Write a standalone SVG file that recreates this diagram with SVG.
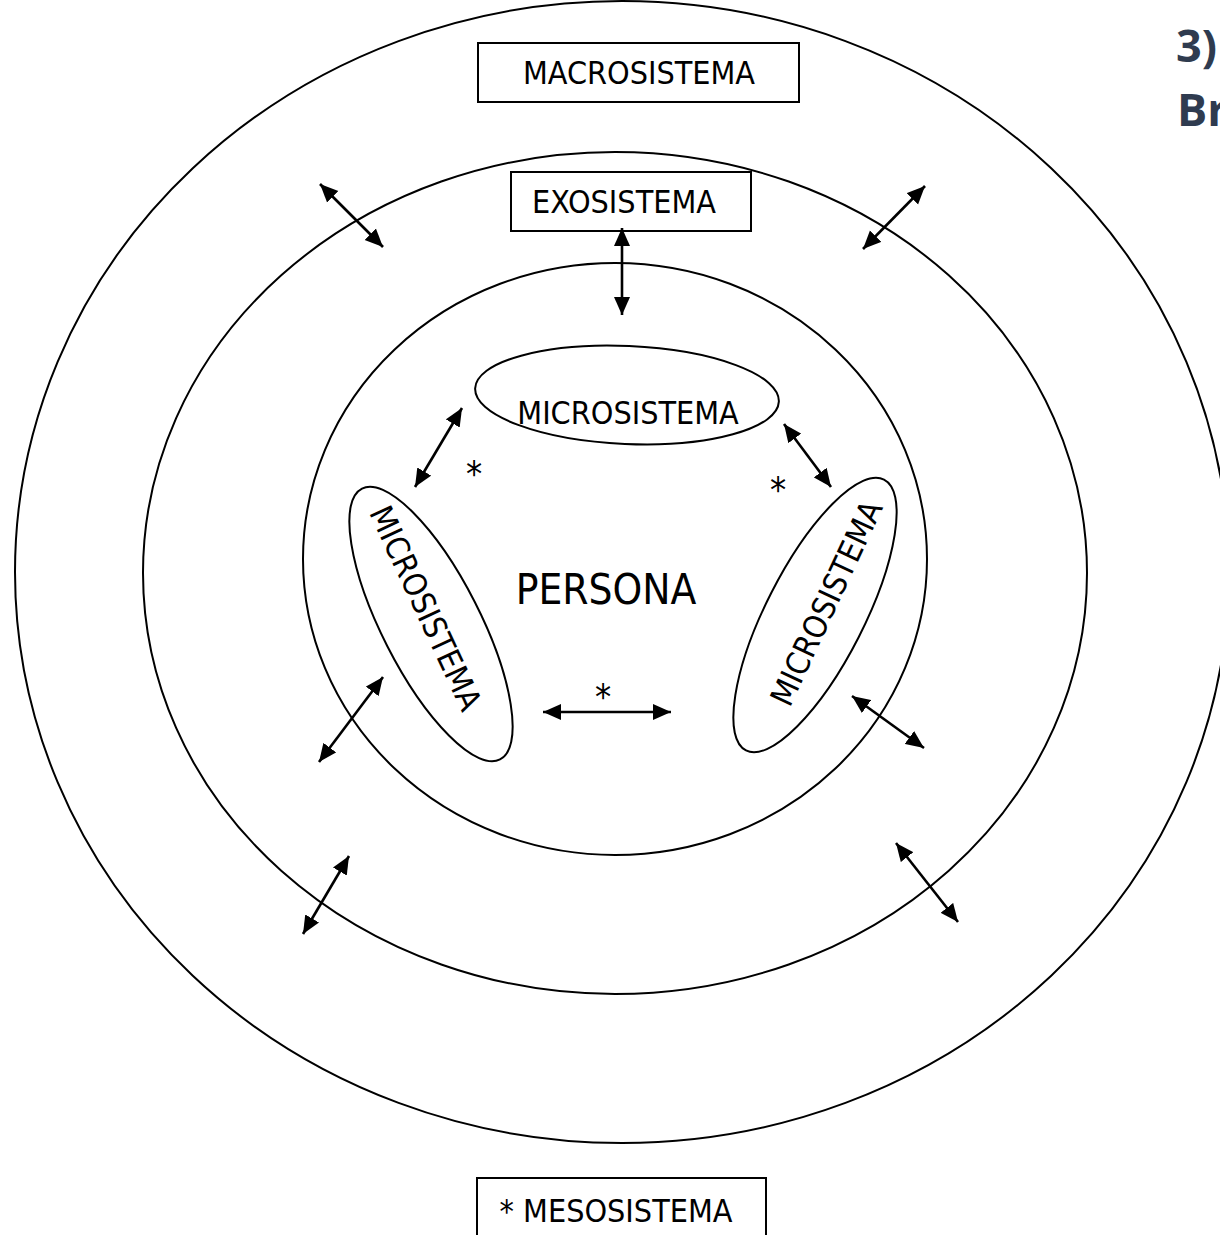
<svg xmlns="http://www.w3.org/2000/svg" width="1220" height="1235" viewBox="0 0 1220 1235">
<style>
.sh{fill:none;stroke:#000;stroke-width:2}
.lbl{font-family:"DejaVu Sans Condensed","DejaVu Sans",sans-serif;font-stretch:condensed;font-size:32px;fill:#000;text-anchor:middle}
.ast{font-family:"DejaVu Sans Condensed","DejaVu Sans",sans-serif;font-stretch:condensed;font-size:36px;fill:#000;text-anchor:middle}
.title{font-family:"Open Sans","DejaVu Sans",sans-serif;font-weight:bold;font-size:45px;fill:#2f3b4f}
.con{stroke:#000;stroke-width:2.6;fill:none;marker-start:url(#ah);marker-end:url(#ah)}
</style>
<defs>
<marker id="ah" markerUnits="userSpaceOnUse" markerWidth="19" markerHeight="17" refX="18" refY="8" orient="auto-start-reverse" viewBox="0 0 19 16">
<path d="M0,0 L18,8 L0,16 z" fill="#000"/>
</marker>
</defs>
<rect width="1220" height="1235" fill="#fff"/>
<g id="macrosistema-ring"><ellipse class="sh" cx="622" cy="572" rx="607" ry="571"/></g>
<g id="exosistema-ring"><ellipse class="sh" cx="615" cy="573" rx="472" ry="421"/></g>
<g id="persona-ring"><ellipse class="sh" cx="615" cy="559" rx="312" ry="296"/></g>
<g id="macrosistema-label">
<rect class="sh" x="478" y="43" width="321" height="59"/>
<text class="lbl" x="639" y="84">MACROSISTEMA</text>
</g>
<g id="exosistema-label">
<rect class="sh" x="511" y="172" width="240" height="59"/>
<text class="lbl" x="624" y="213">EXOSISTEMA</text>
</g>
<g id="microsistema-top">
<ellipse class="sh" cx="627" cy="395" rx="152" ry="49" transform="rotate(2.5 627 395)"/>
<text class="lbl" x="628" y="424">MICROSISTEMA</text>
</g>
<g id="microsistema-left">
<ellipse class="sh" cx="431" cy="624" rx="49" ry="152" transform="rotate(-27 431 624)"/>
<text class="lbl" x="0" y="11.5" transform="translate(426 608) rotate(65)">MICROSISTEMA</text>
</g>
<g id="microsistema-right">
<ellipse class="sh" cx="815" cy="615" rx="49" ry="152" transform="rotate(27 815 615)"/>
<text class="lbl" x="0" y="11.5" transform="translate(826 603) rotate(-65)">MICROSISTEMA</text>
</g>
<g id="persona">
<text class="lbl" style="font-size:42px" x="606" y="604">PERSONA</text>
</g>
<g id="mesosistema-marks">
<text class="ast" x="474" y="486">*</text>
<text class="ast" x="778" y="502">*</text>
<text class="ast" x="603" y="709">*</text>
</g>
<g id="mesosistema-legend">
<rect class="sh" x="477" y="1178" width="289" height="70"/>
<text class="lbl" x="616" y="1222">* MESOSISTEMA</text>
</g>
<g id="title">
<text class="title" x="1176" y="62">3)</text>
<text class="title" x="1177" y="126">Br</text>
</g>
<g id="connectors">
<line class="con" x1="622" y1="228" x2="622" y2="315"/>
<line class="con" x1="320" y1="184" x2="383" y2="247"/>
<line class="con" x1="925" y1="186" x2="863" y2="249"/>
<line class="con" x1="462" y1="408" x2="415" y2="487"/>
<line class="con" x1="784" y1="424" x2="831" y2="487"/>
<line class="con" x1="543" y1="712" x2="671" y2="712"/>
<line class="con" x1="383" y1="677" x2="319" y2="762"/>
<line class="con" x1="852" y1="696" x2="924" y2="748"/>
<line class="con" x1="349" y1="856" x2="303" y2="934"/>
<line class="con" x1="896" y1="843" x2="958" y2="922"/>
</g>
</svg>
